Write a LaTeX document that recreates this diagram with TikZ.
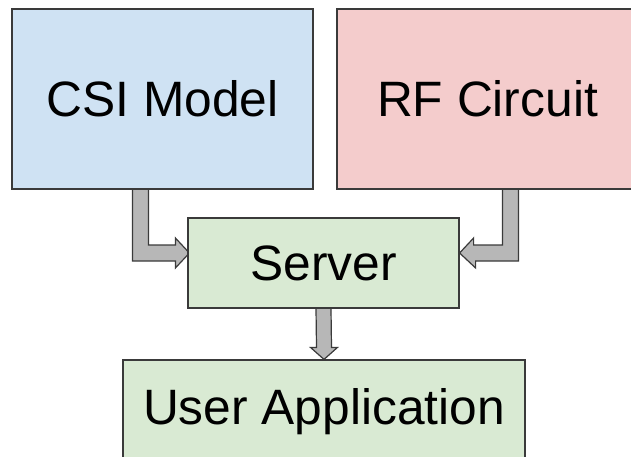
\documentclass[tikz,border=0pt]{standalone}
\usepackage{fontspec}
\setmainfont{Liberation Sans}
\usetikzlibrary{calc,backgrounds}

\definecolor{csiblue}{HTML}{CFE2F3}
\definecolor{rfpink}{HTML}{F4CCCC}
\definecolor{srvgreen}{HTML}{D9EAD3}
\definecolor{arrowgray}{HTML}{B7B7B7}
\definecolor{edgegray}{HTML}{3A3A3A}

\tikzset{
  block/.style={draw=edgegray, line width=1.2pt, rectangle, inner sep=0pt,
    font=\fontsize{49.7}{58}\selectfont},
  fatarrow/.style={draw=edgegray, fill=arrowgray, line width=1.2pt, line join=miter}
}

\begin{document}
\begin{tikzpicture}[x=1pt, y=-1pt]
    \clip (0,0) rectangle (631,457);

    % the two sources on top
    \node[block, fill=csiblue, minimum width=301pt, minimum height=180pt] (csi) at (162.5,99) {CSI Model};
    \node[block, fill=rfpink, minimum width=301pt, minimum height=180pt] (rf) at (487.5,99) {RF Circuit};

    % server and the application below it
    \node[block, fill=srvgreen, minimum width=271pt, minimum height=90pt] (server) at (323.5,263) {Server};
    \node[block, fill=srvgreen, minimum width=402pt, minimum height=103pt] (app) at (324,411.5) {User Application};

    \coordinate (tipL) at ($(server.west)+(2,-10)$);
    \coordinate (tipR) at ($(server.east)+(2,-10)$);

    \begin{scope}[on background layer]
      % csi -> server
      \draw[fatarrow] ($(csi.south)+(-30,0)$) |- ($(tipL)+(-14,8)$) -- ++(0,7) -- (tipL)
        -- ++(-14,-15) -- ++(0,7) -| ($(csi.south)+(-14,0)$);
      % rf -> server
      \draw[fatarrow] ($(rf.south)+(31,0)$) |- ($(tipR)+(14,8)$) -- ++(0,7) -- ($(server.east)+(0,-10)$)
        -- ++(14,-15) -- ++(0,7) -| ($(rf.south)+(15,0)$);
      % server -> app
      \draw[fatarrow] ($(server.south)+(-7.5,0)$) -- ($(app.north)+(-7.5,-12)$) -- ++(-6,0)
        -- (app.north) -- ($(app.north)+(13.5,-12)$) -- ++(-6,0) -- ($(server.south)+(7.5,0)$);
    \end{scope}
\end{tikzpicture}
\end{document}
